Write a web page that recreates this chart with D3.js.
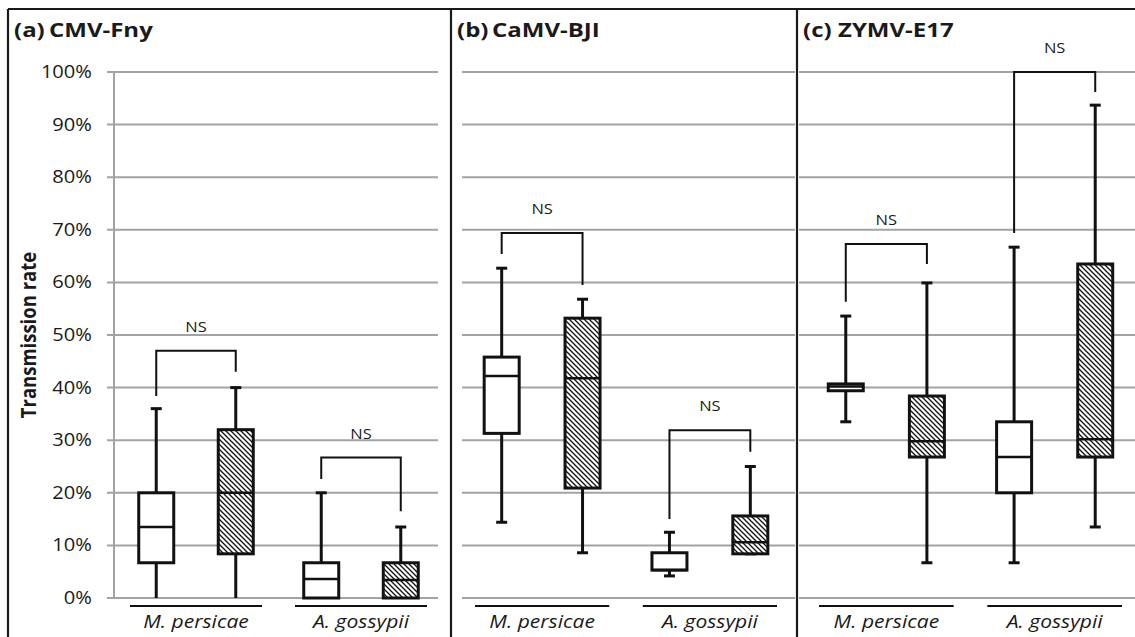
<!DOCTYPE html>
<html>
<head>
<meta charset="utf-8">
<script src="https://cdn.jsdelivr.net/npm/d3@7"></script>
<style>
  html, body { margin: 0; padding: 0; background: #fff; }
  svg { display: block; font-family: "Open Sans", sans-serif; }
</style>
</head>
<body>
<div id="chart"></div>
<script>
// Transmission rate box plots, three viruses x two aphid species.

const panelTags = ['(a)', '(b)', '(c)'];
const panelNames = ['CMV-Fny', 'CaMV-BJI', 'ZYMV-E17'];
const aphids = ['M. persicae', 'A. gossypii'];
const groups = ['plain', 'hatched'];
const yTicks = [0, 10, 20, 30, 40, 50, 60, 70, 80, 90, 100];
const yTitle = 'Transmission rate';
const testLabel = 'NS';

// [min, q1, median, q3, max] in %, per aphid, per group
const cmvStats = [
  [[0, 6.7, 13.5, 20, 36], [0, 8.4, 20, 32, 40]],
  [[0, 0, 3.6, 6.7, 20], [0, 0, 3.4, 6.7, 13.5]],
];
const camvStats = [
  [[14.4, 31.3, 42.2, 45.8, 62.7], [8.6, 20.9, 41.8, 53.2, 56.8]],
  [[4.2, 5.3, 5.3, 8.6, 12.5], [8.4, 8.4, 10.6, 15.6, 25]],
];
const zymvStats = [
  [[33.5, 39.4, 40.2, 40.7, 53.6], [6.7, 26.8, 29.8, 38.4, 59.9]],
  [[6.7, 20, 26.8, 33.5, 66.7], [13.5, 26.8, 30.2, 63.5, 93.7]],
];

// comparison brackets per aphid: [top, left leg end, right leg end] in %
const cmvBrackets = [[47, 38.4, 43], [26.7, 22.6, 16.5]];
const camvBrackets = [[69.4, 65.4, 59.5], [31.9, 15, 27.8]];
const zymvBrackets = [[67.3, 56.3, 63.5], [100, 69.4, 96.2]];

// ---- layout ----
const W = 1135, H = 637;
const TOP = 9;
const SX = 1.15; // the figure's lettering is a little wide

const panels = [
  { stats: cmvStats, brackets: cmvBrackets, left: 8, grid: [107, 438], cats: [130, 427], axis: true },
  { stats: camvStats, brackets: camvBrackets, left: 451, grid: [462, 795], cats: [475, 777], axis: false },
  { stats: zymvStats, brackets: zymvBrackets, left: 797, grid: [799, 1135], cats: [819, 1122], axis: false },
];

const y = d3.scaleLinear().domain([0, 100]).range([598, 72]);

const svg = d3.select('#chart').append('svg')
  .attr('width', W).attr('height', H)
  .attr('viewBox', `0 0 ${W} ${H}`);

const defs = svg.append('defs');
defs.append('pattern')
  .attr('id', 'hatch')
  .attr('patternUnits', 'userSpaceOnUse')
  .attr('width', 5).attr('height', 5)
  .call((p) => {
    p.append('rect').attr('width', 5).attr('height', 5).attr('fill', '#fff');
    p.append('path')
      .attr('d', 'M-1,-1 L6,6 M-1,4 L1,6 M4,-1 L6,1')
      .attr('stroke', '#111').attr('stroke-width', 1.3);
  });

function label(g, x, yy, str, { size, weight = 'normal', style = 'normal', anchor = 'start', sx = SX }) {
  return g.append('text')
    .attr('transform', `translate(${x},${yy}) scale(${sx},1)`)
    .attr('text-anchor', anchor)
    .style('font-size', `${size}px`)
    .style('font-weight', weight)
    .style('font-style', style)
    .attr('fill', '#1a1a1a')
    .text(str);
}

const INK = '#111';
const GRID = '#a3a3a3';
const BOX_W = 35, CAP_W = 11;

panels.forEach((p, pi) => {
  const g = svg.append('g').attr('class', 'panel');

  // gridlines
  g.append('g').selectAll('line').data(yTicks).join('line')
    .attr('x1', p.grid[0]).attr('x2', p.grid[1])
    .attr('y1', (d) => y(d)).attr('y2', (d) => y(d))
    .attr('stroke', GRID).attr('stroke-width', 2);

  if (p.axis) {
    g.append('line')
      .attr('x1', 114).attr('x2', 114)
      .attr('y1', y(100)).attr('y2', y(0))
      .attr('stroke', GRID).attr('stroke-width', 2);
    yTicks.forEach((t) => {
      label(g, 92, y(t) + 6, `${t}%`, { size: 17.5, anchor: 'end' });
    });
    g.append('text')
      .attr('transform', `translate(36,${(y(40) + y(60)) / 2}) rotate(-90) scale(1,1.15)`)
      .attr('text-anchor', 'middle')
      .style('font-size', '18.5px').style('font-weight', 700)
      .attr('fill', '#1a1a1a')
      .text(yTitle);
  }

  // titles
  label(g, p.left + 6, 37, panelTags[pi], { size: 20, weight: 700, sx: 1.2 });
  label(g, p.left + 41, 37, panelNames[pi], { size: 20, weight: 700, sx: 1.2 });

  const x = d3.scaleBand().domain(aphids).range(p.cats).paddingInner(0.2);
  const xi = d3.scalePoint().domain(groups).range([0, x.bandwidth()]).padding(0.33);

  aphids.forEach((a, ai) => {
    const bx = x(a);

    // category underline + name
    g.append('line')
      .attr('x1', bx).attr('x2', bx + x.bandwidth())
      .attr('y1', 606).attr('y2', 606)
      .attr('stroke', INK).attr('stroke-width', 2);
    label(g, bx + x.bandwidth() / 2, 628, a, { size: 18, style: 'italic', anchor: 'middle', sx: 1.17 });

    groups.forEach((grp, gi) => {
      const [mn, q1, md, q3, mx] = p.stats[ai][gi];
      const cx = bx + xi(grp);
      const bg = g.append('g');

      // whiskers
      bg.append('line')
        .attr('x1', cx).attr('x2', cx)
        .attr('y1', y(mx)).attr('y2', y(mn))
        .attr('stroke', INK).attr('stroke-width', 3);
      [mn, mx].forEach((v) => {
        if (v <= 0) return;
        bg.append('line')
          .attr('x1', cx - CAP_W / 2).attr('x2', cx + CAP_W / 2)
          .attr('y1', y(v)).attr('y2', y(v))
          .attr('stroke', INK).attr('stroke-width', 3);
      });

      // box
      bg.append('rect')
        .attr('x', cx - BOX_W / 2).attr('width', BOX_W)
        .attr('y', y(q3)).attr('height', y(q1) - y(q3))
        .attr('fill', grp === 'hatched' ? 'url(#hatch)' : '#fff')
        .attr('stroke', INK).attr('stroke-width', 3);
      bg.append('line')
        .attr('x1', cx - BOX_W / 2).attr('x2', cx + BOX_W / 2)
        .attr('y1', y(md)).attr('y2', y(md))
        .attr('stroke', INK).attr('stroke-width', 2.5);
    });

    // significance bracket
    const [top, lEnd, rEnd] = p.brackets[ai];
    const xl = bx + xi(groups[0]);
    const xr = bx + xi(groups[1]);
    g.append('path')
      .attr('d', `M${xl},${y(lEnd)} V${y(top)} H${xr} V${y(rEnd)}`)
      .attr('fill', 'none')
      .attr('stroke', INK).attr('stroke-width', 2);
    label(g, (xl + xr) / 2, y(top) - 19, testLabel, { size: 15, anchor: 'middle', sx: 1.1 });
  });
});

// frame
const frame = svg.append('g').attr('stroke', '#1a1a1a').attr('stroke-width', 2.2);
frame.append('line').attr('x1', 8).attr('x2', W).attr('y1', TOP).attr('y2', TOP);
panels.forEach((p) => {
  frame.append('line').attr('x1', p.left).attr('x2', p.left).attr('y1', TOP).attr('y2', H);
});
</script>
</body>
</html>
